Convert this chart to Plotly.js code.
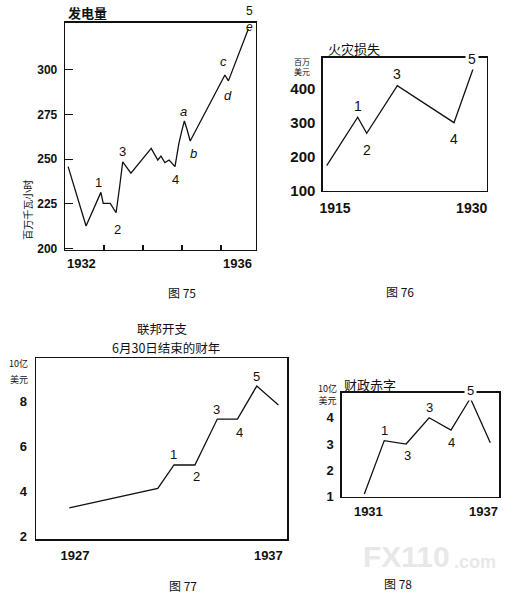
<!DOCTYPE html>
<html><head><meta charset="utf-8">
<script src="https://cdn.plot.ly/plotly-3.0.1.min.js"></script>
<style>html,body{margin:0;padding:0;background:#fff}#chart{width:531px;height:604px}</style>
</head><body><div id="chart"></div>
<script>
// ---------- DATA ----------
// 图75 发电量 (百万千瓦小时)
const fig75Years  = [1932.08, 1932.54, 1932.92, 1932.98, 1933.16, 1933.31, 1933.40, 1933.48, 1933.69, 1934.21, 1934.38, 1934.46, 1934.56, 1934.67, 1934.82, 1934.92, 1934.99, 1935.06, 1935.12, 1935.21, 1936.10, 1936.19, 1936.70];
const fig75Output = [245.8, 212.6, 231.4, 225.3, 225.3, 220.0, 234.4, 248.5, 242.1, 256.0, 249.5, 251.7, 248.0, 249.5, 245.8, 258.8, 265.3, 271.3, 267.2, 260.1, 297.0, 293.7, 322.7];
const fig75WaveIdx  = [2, 5, 7, 14, 17, 19, 20, 21, 22];
const fig75WaveText = ['1', '2', '3', '4', 'a', 'b', 'c', 'd', '5<br><i>e</i>'];
const fig75TickYears  = [1932, 1936];
const fig75TickLabels = ['1932', '1936'];
const fig75YTicks = [200, 225, 250, 275, 300];
const fig75YearMarks = [1933, 1934, 1935, 1936];

// 图76 火灾损失 (百万美元)
const fig76Years = [1914.09, 1917.49, 1918.48, 1921.84, 1928.06, 1930.18];
const fig76Loss  = [174, 316, 269, 408, 300, 459];
const fig76WaveIdx  = [1, 2, 3, 4, 5];
const fig76WaveText = ['1', '2', '3', '4', '5'];
const fig76TickYears  = [1915, 1930];
const fig76TickLabels = ['1915', '1930'];
const fig76YTicks = [100, 200, 300, 400];

// 图77 联邦开支 (10亿美元)
const fig77Years = [1926.7, 1931.28, 1932.12, 1933.2, 1934.36, 1935.4, 1936.4, 1937.52];
const fig77Spend = [3.26, 4.13, 5.17, 5.17, 7.22, 7.22, 8.69, 7.85];
const fig77WaveIdx  = [2, 3, 4, 5, 6];
const fig77WaveText = ['1', '2', '3', '4', '5'];
const fig77TickYears  = [1927, 1937];
const fig77TickLabels = ['1927', '1937'];
const fig77YTicks = [2, 4, 6, 8];

// 图78 财政赤字 (10亿美元)
const fig78Years   = [1930.79, 1931.83, 1932.97, 1934.17, 1935.31, 1936.32, 1937.36];
const fig78Deficit = [1.10, 3.13, 3.00, 4.00, 3.53, 4.74, 3.05];
const fig78WaveIdx  = [1, 2, 3, 4, 5];
const fig78WaveText = ['1', '3', '3', '4', '5'];
const fig78TickYears  = [1931, 1937];
const fig78TickLabels = ['1931', '1937'];
const fig78YTicks = [1, 2, 3, 4];

// ---------- STYLE / LAYOUT ----------
const W = 531, H = 604;
const PX = x => x / W, PY = y => 1 - y / H;
const LAT = 'Liberation Sans, Arial, sans-serif';
const CJK = 'Noto Sans CJK SC, sans-serif';
const INK = '#111';

function xaxis(dom, range, tickYears, tickLabels, tickShift, size, standoff, extra) {
  return Object.assign({
    domain: [PX(dom[0]), PX(dom[1])], range: range,
    showline: true, mirror: true, linecolor: INK, linewidth: 1.3,
    showgrid: false, zeroline: false, fixedrange: true,
    tickmode: 'array', tickvals: tickYears.map(v => v + tickShift), ticktext: tickLabels,
    ticks: '', tickfont: {family: LAT, size: size, color: INK, weight: 'bold'},
    ticklabelstandoff: standoff
  }, extra || {});
}
function yaxis(dom, range, ticks, size, standoff, extra) {
  return Object.assign({
    domain: [PY(dom[1]), PY(dom[0])], range: range,
    showline: true, mirror: true, linecolor: INK, linewidth: 1.3,
    showgrid: false, zeroline: false, fixedrange: true,
    tickmode: 'array', tickvals: ticks, ticktext: ticks.map(String),
    ticks: '', tickfont: {family: LAT, size: size, color: INK, weight: 'bold'},
    ticklabelstandoff: standoff
  }, extra || {});
}

const lineStyle = {color: INK, width: 1.3};
const traces = [
  {x: fig75Years, y: fig75Output, xaxis: 'x',  yaxis: 'y',  mode: 'lines', line: lineStyle, hoverinfo: 'skip'},
  {x: fig76Years, y: fig76Loss,   xaxis: 'x2', yaxis: 'y2', mode: 'lines', line: lineStyle, hoverinfo: 'skip'},
  {x: fig77Years, y: fig77Spend,  xaxis: 'x3', yaxis: 'y3', mode: 'lines', line: lineStyle, hoverinfo: 'skip'},
  {x: fig78Years, y: fig78Deficit,xaxis: 'x4', yaxis: 'y4', mode: 'lines', line: lineStyle, hoverinfo: 'skip'}
];

const annotations = [];
function waves(xs, ys, idx, txt, shifts, axn, size, maskLast) {
  idx.forEach((k, i) => {
    const italic = /^[a-z]$/.test(txt[i]);
    const multi = txt[i].indexOf('<br>') >= 0;
    const a = {
      xref: 'x' + axn, yref: 'y' + axn, x: xs[k], y: ys[k], text: txt[i], showarrow: false,
      xshift: shifts[i][0], yshift: shifts[i][1],
      font: {family: LAT, size: multi ? 12 : size, color: INK, style: italic ? 'italic' : 'normal'}
    };
    if (maskLast && txt[i] === '5') { a.bgcolor = '#fff'; a.borderpad = 2; }
    annotations.push(a);
  });
}
waves(fig75Years, fig75Output, fig75WaveIdx, fig75WaveText,
  [[-2,10],[1,-17],[0,10],[1,-13],[-1,9],[3,-13],[-1,13],[0,-15],[1,10]], '', 13, false);
waves(fig76Years, fig76Loss, fig76WaveIdx, fig76WaveText,
  [[0,11],[0,-17],[0,12],[0,-16],[-1,9]], '2', 14, true);
waves(fig77Years, fig77Spend, fig77WaveIdx, fig77WaveText,
  [[-1,10],[2,-12],[-1,10],[2,-13],[0,10]], '3', 13, false);
waves(fig78Years, fig78Deficit, fig78WaveIdx, fig78WaveText,
  [[0,10],[1,-11],[0,10],[1,-12],[0,8]], '4', 13, true);

function txt(text, x, y, size, opts) {
  annotations.push(Object.assign({
    xref: 'paper', yref: 'paper', x: PX(x), y: PY(y), text: text, showarrow: false,
    xanchor: 'center', yanchor: 'middle',
    font: {family: CJK, size: size, color: INK}
  }, opts || {}));
}
// titles
txt('发电量', 66, 12.7, 13, {xanchor: 'left', font: {family: CJK, size: 13, color: INK, weight: 'bold'}});
txt('火灾损失', 326, 48.3, 13, {xanchor: 'left'});
txt('联邦开支', 162, 328.5, 12.5);
txt('6月30日结束的财年', 166, 347.5, 12.5);
txt('财政赤字', 342, 384, 13, {xanchor: 'left'});
// unit labels
txt('百万千瓦小时', 26.7, 210, 10, {textangle: -90});
txt('百万<br>美元', 302, 67, 8);
txt('10亿', 18.5, 363.3, 9);
txt('美元', 19, 379.5, 9);
txt('10亿<br>美元', 327, 394, 9);
// captions
txt('图 75', 181.7, 292.7, 12);
txt('图 76', 400, 291.7, 12);
txt('图 77', 182.7, 585, 12);
txt('图 78', 398.3, 583.3, 12);
// watermark
txt('FX110', 406, 556, 30, {font: {family: LAT, size: 30, color: '#e8e8e8', weight: 'bold'}});
txt('.com', 475, 562, 18, {font: {family: LAT, size: 18, color: '#e8e8e8', weight: 'bold'}});

const layout = {
  width: W, height: H, margin: {l: 0, r: 0, t: 0, b: 0, pad: 0},
  paper_bgcolor: '#fff', plot_bgcolor: '#fff', showlegend: false,
  xaxis:  xaxis([65, 256], [1932, 1936.897], fig75TickYears, fig75TickLabels, 0.42, 13, 1,
          {anchor: 'y', minor: {tickmode: 'array', tickvals: fig75YearMarks, ticks: 'inside', ticklen: 5, tickwidth: 1.2, tickcolor: INK}}),
  yaxis:  yaxis([22.7, 250], [199.2, 326.2], fig75YTicks, 12, 4,
          {anchor: 'x', ticks: 'inside', ticklen: 8, tickwidth: 1.1, tickcolor: INK}),
  xaxis2: xaxis([322.7, 486.7], [1913.65, 1931.65], fig76TickYears, fig76TickLabels, 0, 14, 4, {anchor: 'y2'}),
  yaxis2: yaxis([57.7, 191], [100, 490], fig76YTicks, 15, 3, {anchor: 'x2'}),
  xaxis3: xaxis([36, 287.3], [1924.98, 1937.98], fig77TickYears, fig77TickLabels, 0, 13, 4, {anchor: 'y3'}),
  yaxis3: yaxis([358.3, 539.3], [1.855, 9.93], fig77YTicks, 13, 5, {anchor: 'x3'}),
  xaxis4: xaxis([341.7, 499.3], [1929.61, 1937.83], fig78TickYears, fig78TickLabels, 0, 13, 2, {anchor: 'y4'}),
  yaxis4: yaxis([392.7, 496.7], [1.0, 4.95], fig78YTicks, 13, 4, {anchor: 'x4'}),
  annotations: annotations
};

Plotly.newPlot('chart', traces, layout, {staticPlot: true, displayModeBar: false});
</script>
</body></html>
